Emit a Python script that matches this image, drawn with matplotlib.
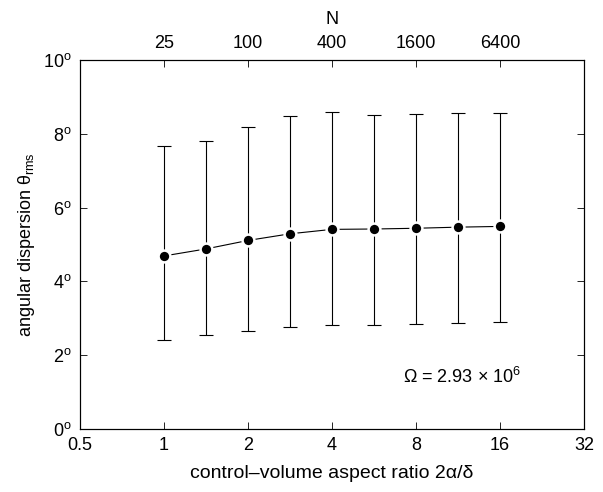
import matplotlib
matplotlib.use('Agg')
import matplotlib.pyplot as plt

plt.rcParams['font.family'] = ['Liberation Sans', 'DejaVu Sans']
plt.rcParams['mathtext.fontset'] = 'custom'
plt.rcParams['mathtext.rm'] = 'Liberation Sans'
plt.rcParams['mathtext.it'] = 'Liberation Sans:italic'
plt.rcParams['font.size'] = 13

# data
aspect = [1, 1.414, 2, 2.828, 4, 5.657, 8, 11.31, 16]
theta_mean = [4.69, 4.88, 5.11, 5.29, 5.41, 5.42, 5.44, 5.47, 5.49]
theta_hi = [7.67, 7.80, 8.18, 8.48, 8.60, 8.50, 8.54, 8.57, 8.56]
theta_lo = [2.42, 2.55, 2.66, 2.76, 2.82, 2.82, 2.85, 2.88, 2.90]
n_ticks = [25, 100, 400, 1600, 6400]
x_ticks = [0.5, 1, 2, 4, 8, 16, 32]
y_ticks = [0, 2, 4, 6, 8, 10]

err_lo = [m - l for m, l in zip(theta_mean, theta_lo)]
err_hi = [h - m for m, h in zip(theta_mean, theta_hi)]

fig = plt.figure(figsize=(6.03, 4.92), dpi=100)
ax = fig.add_axes([80/603, 63/492, 504/603, 369/492])

ax.errorbar(aspect, theta_mean, yerr=[err_lo, err_hi], fmt='none',
            ecolor='black', elinewidth=0.8, capsize=5, capthick=0.8)
ax.plot(aspect, theta_mean, '-', color='black', lw=0.8,
        marker='o', ms=8.5, mfc='black', mec='white', mew=1.8, zorder=3)

ax.set_xscale('log', base=2)
ax.set_xlim(0.5, 32)
ax.set_ylim(0, 10)
ax.set_xticks(x_ticks)
ax.set_xticklabels([str(v) for v in x_ticks])
ax.minorticks_off()
ax.set_yticks(y_ticks)
ax.set_yticklabels([r'$\mathregular{%d^o}$' % v for v in y_ticks])
ax.tick_params(direction='in', length=5, width=0.6, right=True, pad=6)
for s in ax.spines.values():
    s.set_linewidth(0.8)

ax.set_xlabel('control\u2013volume aspect ratio 2\u03b1/\u03b4', labelpad=8, fontsize=14)
ax.set_ylabel(r'angular dispersion $\mathregular{\theta_{rms}}$', labelpad=4)

# top axis: number of cells N = 25 * ratio^2
top = ax.twiny()
top.set_xscale('log', base=2)
top.set_xlim(0.5, 32)
top.set_xticks([(n / 25) ** 0.5 for n in n_ticks])
top.set_xticklabels([str(n) for n in n_ticks])
top.minorticks_off()
top.tick_params(direction='in', length=5, width=0.6, pad=6)
top.set_xlabel('N', labelpad=8)

ax.text(0.758, 0.14, r'$\Omega$ = 2.93 $\times$ 10$^6$', transform=ax.transAxes,
        ha='center', va='center')

fig.savefig('out.png', dpi=100)
